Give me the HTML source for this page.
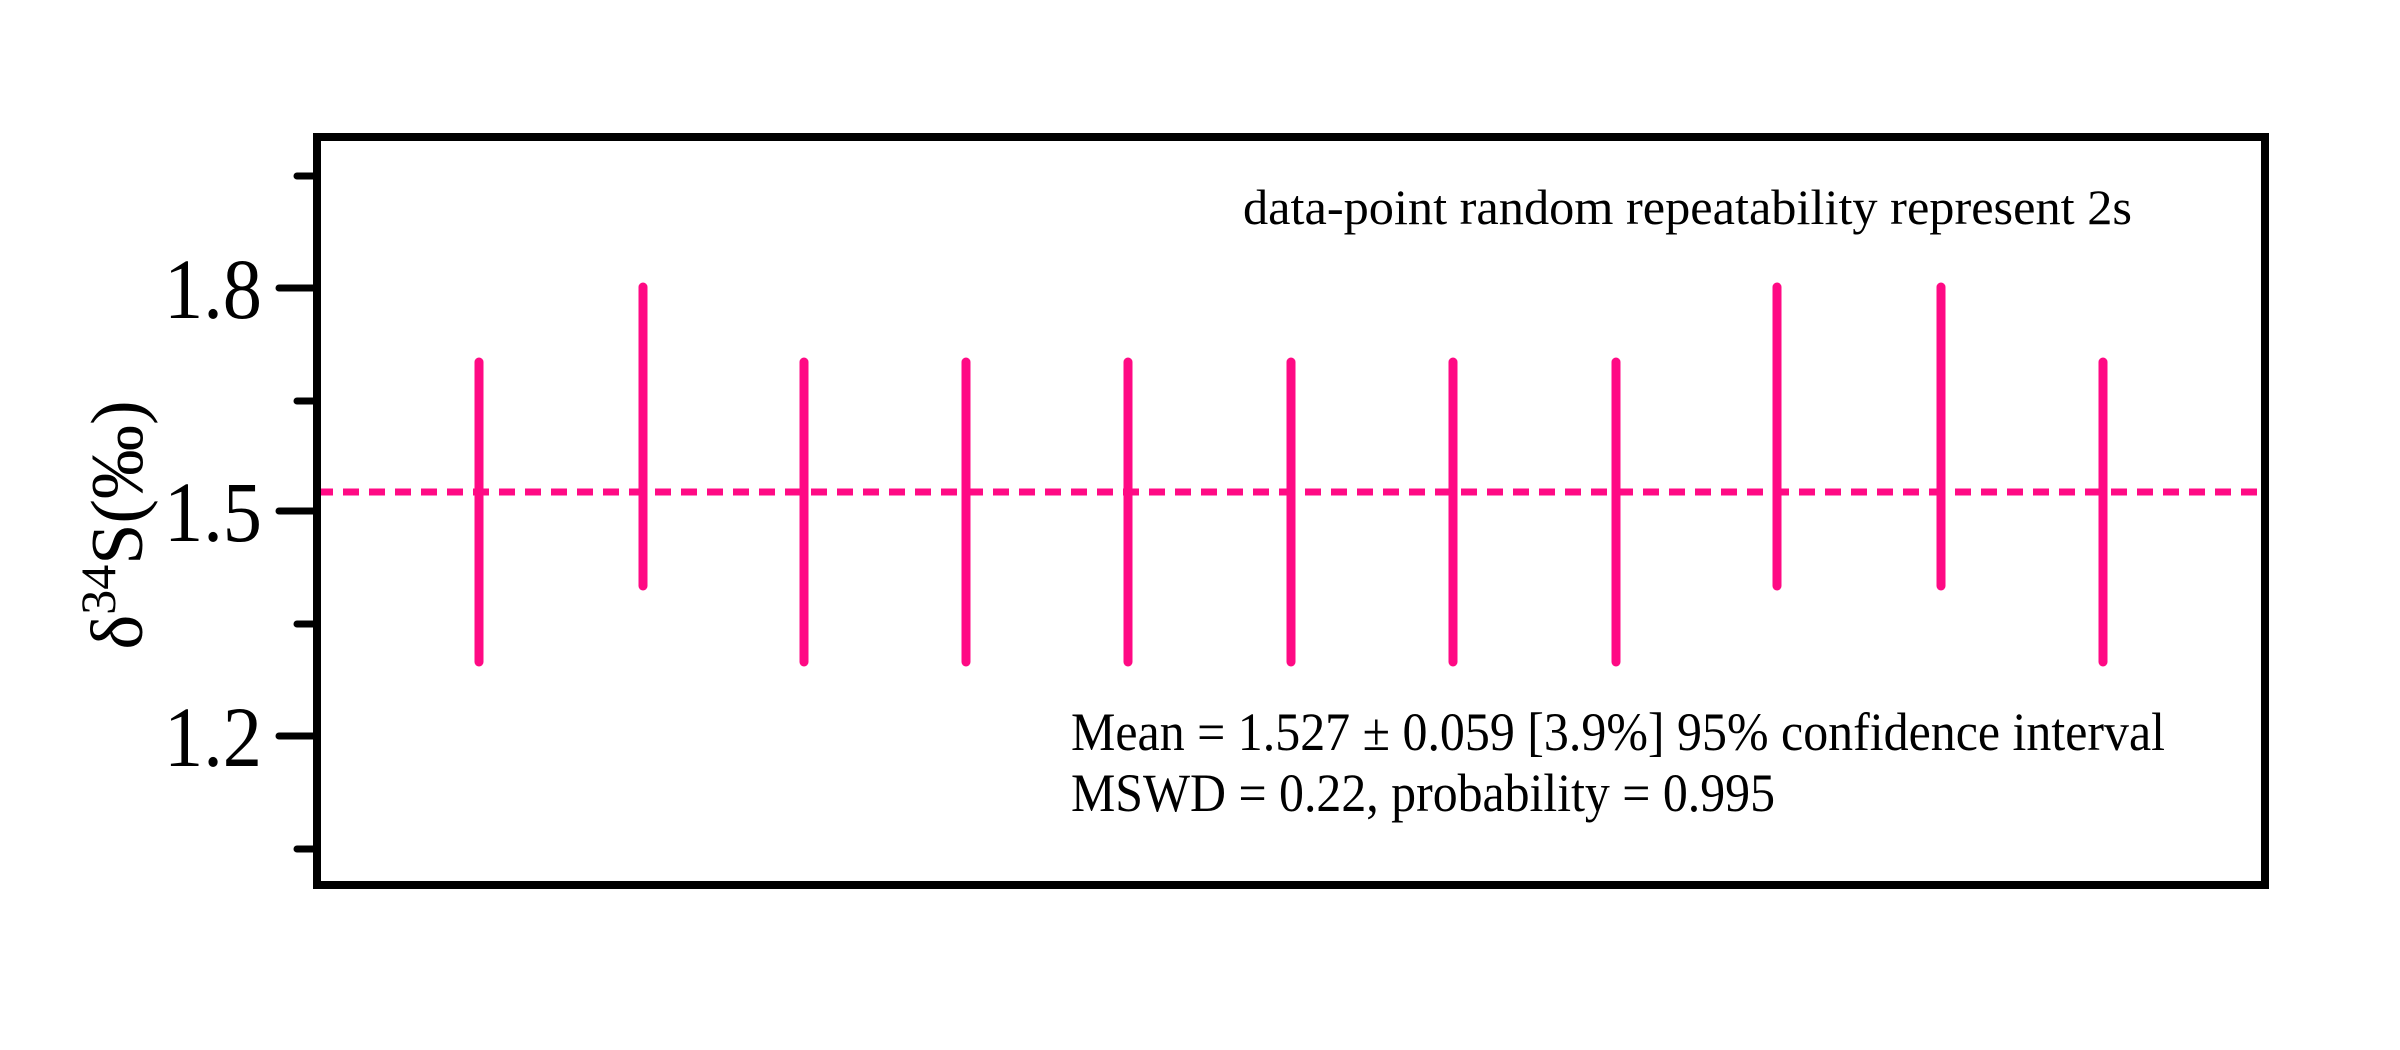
<!DOCTYPE html>
<html><head><meta charset="utf-8"><style>
html,body{margin:0;padding:0;background:#fff;}
svg{display:block;}
text{font-family:"Liberation Serif","DejaVu Serif",serif;fill:#000;}
</style></head><body>
<svg width="2400" height="1050" viewBox="0 0 2400 1050" xmlns="http://www.w3.org/2000/svg">
<rect width="2400" height="1050" fill="#fff"/>
<g stroke="#000" stroke-width="7" stroke-linecap="round">
<line x1="297" y1="176" x2="317" y2="176"/>
<line x1="279" y1="288" x2="317" y2="288"/>
<line x1="297" y1="401" x2="317" y2="401"/>
<line x1="279" y1="511" x2="317" y2="511"/>
<line x1="297" y1="624" x2="317" y2="624"/>
<line x1="279" y1="736" x2="317" y2="736"/>
<line x1="297" y1="849" x2="317" y2="849"/>
</g>
<g font-size="86" text-anchor="end">
<text x="262" y="318" textLength="98" lengthAdjust="spacingAndGlyphs">1.8</text>
<text x="262" y="541" textLength="98" lengthAdjust="spacingAndGlyphs">1.5</text>
<text x="262" y="766" textLength="98" lengthAdjust="spacingAndGlyphs">1.2</text>
</g>
<text transform="translate(142,525) rotate(-90)" text-anchor="middle" font-size="74">δ<tspan font-size="50" dy="-27">34</tspan><tspan dy="27">S(‰)</tspan></text>
<line x1="317" y1="492" x2="2265" y2="492" stroke="#ff0a84" stroke-width="7" stroke-dasharray="16,10"/>
<g stroke="#ff0a84" stroke-width="9" stroke-linecap="round">
<line x1="479" y1="362" x2="479" y2="662"/>
<line x1="643" y1="287" x2="643" y2="586"/>
<line x1="804" y1="362" x2="804" y2="662"/>
<line x1="966" y1="362" x2="966" y2="662"/>
<line x1="1128" y1="362" x2="1128" y2="662"/>
<line x1="1291" y1="362" x2="1291" y2="662"/>
<line x1="1453" y1="362" x2="1453" y2="662"/>
<line x1="1616" y1="362" x2="1616" y2="662"/>
<line x1="1777" y1="287" x2="1777" y2="586"/>
<line x1="1941" y1="287" x2="1941" y2="586"/>
<line x1="2103" y1="362" x2="2103" y2="662"/>
</g>
<rect x="317" y="137" width="1948" height="748" fill="none" stroke="#000" stroke-width="8"/>
<text x="1243" y="224" font-size="50" textLength="889" lengthAdjust="spacingAndGlyphs">data-point  random repeatability represent 2s</text>
<text x="1071" y="750" font-size="54" textLength="1094" lengthAdjust="spacingAndGlyphs">Mean = 1.527 ± 0.059 [3.9%] 95% confidence interval</text>
<text x="1071" y="811" font-size="54" textLength="704" lengthAdjust="spacingAndGlyphs">MSWD = 0.22, probability = 0.995</text>
</svg>
</body></html>
